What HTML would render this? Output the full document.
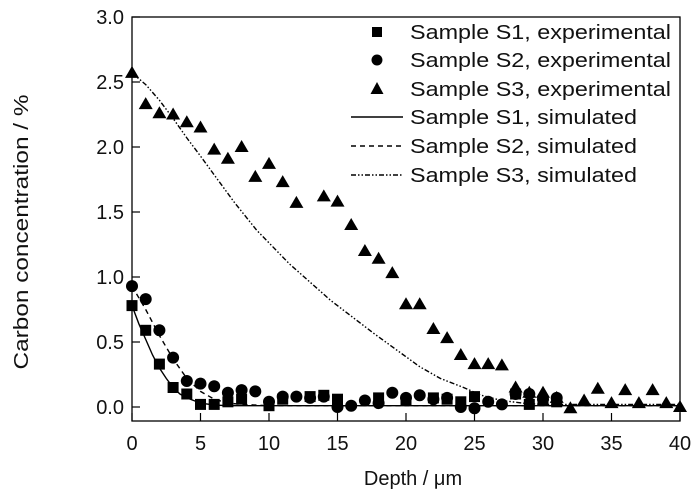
<!DOCTYPE html>
<html><head><meta charset="utf-8"><style>body{margin:0;background:#fff}svg{display:block}text{font-family:"Liberation Sans",Arial,sans-serif;fill:#111}</style></head>
<body>
<svg id="s" width="700" height="493" xmlns="http://www.w3.org/2000/svg">
<rect x="132" y="17" width="548" height="404" fill="none" stroke="#000" stroke-width="1.3"/>
<g id="ticks" stroke="#000" stroke-width="1.2"></g>
<g id="lbl" font-size="20"></g>
<text x="413" y="485" font-size="20" text-anchor="middle">Depth / μm</text>
<text transform="translate(28,232) rotate(-90)" font-size="20" text-anchor="middle" textLength="275" lengthAdjust="spacingAndGlyphs">Carbon concentration / %</text>
<g id="curves" fill="none" stroke="#000" stroke-width="1.4"></g>
<g id="pts" fill="#000"></g>
<g font-size="20">
<rect x="372" y="27" width="10" height="10"/>
<circle cx="377" cy="60" r="5.5"/>
<path d="M377 82 L383.5 94 L370.5 94Z"/>
<line x1="351" y1="117" x2="403" y2="117" stroke="#000" stroke-width="1.4"/>
<line x1="351" y1="146" x2="403" y2="146" stroke="#000" stroke-width="1.4" stroke-dasharray="5,4"/>
<line x1="351" y1="175" x2="403" y2="175" stroke="#000" stroke-width="1.4" stroke-dasharray="5,2,1.5,2,1.5,2"/>
<text x="410" y="39" textLength="261" lengthAdjust="spacingAndGlyphs">Sample S1, experimental</text>
<text x="410" y="67" textLength="261" lengthAdjust="spacingAndGlyphs">Sample S2, experimental</text>
<text x="410" y="96" textLength="261" lengthAdjust="spacingAndGlyphs">Sample S3, experimental</text>
<text x="410" y="124" textLength="227" lengthAdjust="spacingAndGlyphs">Sample S1, simulated</text>
<text x="410" y="153" textLength="227" lengthAdjust="spacingAndGlyphs">Sample S2, simulated</text>
<text x="410" y="182" textLength="227" lengthAdjust="spacingAndGlyphs">Sample S3, simulated</text>
</g>
</svg>
<script>
const X=v=>132+v*13.7, Y=v=>407-v*130, NS="http://www.w3.org/2000/svg";
function el(p,t,a){const e=document.createElementNS(NS,t);for(const k in a)e.setAttribute(k,a[k]);document.getElementById(p).appendChild(e);return e;}
for(let i=0;i<=8;i++){const x=X(i*5);el("ticks","line",{x1:x,y1:421,x2:x,y2:413});const t=el("lbl","text",{x:x,y:450,"text-anchor":"middle"});t.textContent=i*5;}
for(let i=0;i<=6;i++){const y=Y(i*0.5);el("ticks","line",{x1:132,y1:y,x2:140,y2:y});const t=el("lbl","text",{x:124,y:y+7,"text-anchor":"end"});t.textContent=(i*0.5).toFixed(1);}
function curve(p,d){el("curves","polyline",{points:p.map(q=>X(q[0])+","+Y(q[1])).join(" "),"stroke-dasharray":d||"none"});}
curve([[0,0.78],[0.5,0.64],[1,0.52],[1.5,0.4],[2,0.3],[2.5,0.22],[3,0.15],[3.5,0.1],[4,0.07],[5,0.03],[6,0.015],[7,0.01],[40,0.01]]);
curve([[0,0.93],[1,0.75],[2,0.55],[3,0.37],[4,0.22],[5,0.12],[6,0.06],[7,0.03],[8,0.02],[10,0.01],[40,0.01]],"5,4");
curve([[0,2.57],[1,2.48],[2,2.36],[3,2.22],[4,2.07],[5,1.93],[5.9,1.8],[7.5,1.57],[9.1,1.36],[11.5,1.1],[14.5,0.82],[17.6,0.57],[21,0.31],[22.5,0.22],[24.2,0.15],[25.5,0.09],[27,0.05],[28.5,0.03],[30,0.02],[40,0.02]],"5,2,1.5,2,1.5,2");
const s3=[[0,2.57],[1,2.33],[2,2.26],[3,2.25],[4,2.19],[5,2.15],[6,1.98],[7,1.91],[8,2.0],[9,1.77],[10,1.87],[11,1.73],[12,1.57],[14,1.62],[15,1.58],[16,1.40],[17,1.20],[18,1.14],[19,1.03],[20,0.79],[21,0.79],[22,0.6],[23,0.53],[24,0.4],[25,0.33],[26,0.33],[27,0.32],[28,0.15],[29,0.11],[30,0.11],[31,0.07],[32,-0.01],[33,0.05],[34,0.14],[35,0.03],[36,0.13],[37,0.03],[38,0.13],[39,0.03],[40,0.0]];
const s2=[[0,0.93],[1,0.83],[2,0.59],[3,0.38],[4,0.2],[5,0.18],[6,0.16],[7,0.11],[8,0.13],[9,0.12],[10,0.04],[11,0.08],[12,0.08],[13,0.07],[14,0.08],[15,0.0],[16,0.01],[17,0.05],[18,0.03],[19,0.11],[20,0.07],[21,0.09],[22,0.06],[23,0.07],[24,0.0],[25,-0.01],[26,0.04],[27,0.02],[28,0.1],[29,0.1],[30,0.06],[31,0.07]];
const s1=[[0,0.78],[1,0.59],[2,0.33],[3,0.15],[4,0.1],[5,0.02],[6,0.02],[7,0.04],[8,0.06],[10,0.01],[11,0.06],[13,0.08],[14,0.09],[15,0.06],[18,0.07],[20,0.05],[22,0.07],[23,0.06],[24,0.04],[25,0.08],[28,0.1],[29,0.02],[30,0.05],[31,0.04]];
s1.forEach(p=>el("pts","rect",{x:X(p[0])-5.5,y:Y(p[1])-5.5,width:11,height:11}));
s2.forEach(p=>el("pts","circle",{cx:X(p[0]),cy:Y(p[1]),r:6}));
s3.forEach(p=>{const x=X(p[0]),y=Y(p[1]);el("pts","path",{d:`M${x} ${y-7}L${x+7} ${y+5}L${x-7} ${y+5}Z`});});
</script>
</body></html>
